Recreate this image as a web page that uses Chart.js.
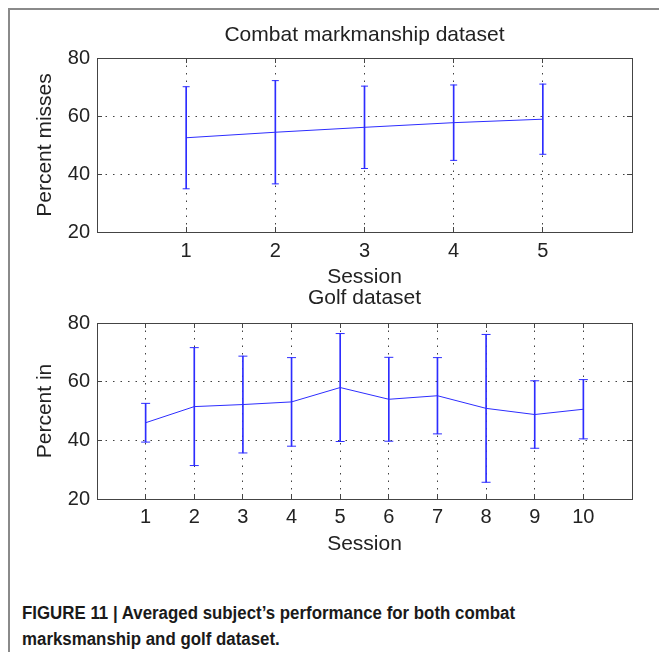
<!DOCTYPE html>
<html>
<head>
<meta charset="utf-8">
<script src="https://cdn.jsdelivr.net/npm/chart.js@4.4.1/dist/chart.umd.min.js"></script>
<style>
  html, body { margin: 0; padding: 0; background: #fff; width: 659px; height: 652px; overflow: hidden; }
  .frame { position: absolute; left: 8px; top: 8px; width: 720px; height: 720px;
           border-left: 2px solid #8a8a8a; border-top: 2px solid #8a8a8a; }
  canvas { position: absolute; left: 0; }
  #combatChart { top: 0; }
  #golfChart { top: 270px; }
  .caption { position: absolute; left: 22px; top: 600px; width: 700px;
             font-family: 'Liberation Sans', Arial, sans-serif;
             font-weight: bold; font-size: 18px; line-height: 26px; color: #1a1a1a;
             transform: scaleX(0.937); transform-origin: 0 0; }
</style>
</head>
<body>
<div class="frame"></div>
<canvas id="combatChart" width="659" height="290"></canvas>
<canvas id="golfChart" width="659" height="287"></canvas>
<div class="caption">FIGURE 11 | Averaged subject’s performance for both combat<br>marksmanship and golf dataset.</div>
<script>
const blue = 'rgb(45,45,255)';
const axisGray = '#444';
const fontFamily = "'Liberation Sans', Arial, sans-serif";

const combatSessions = [1, 2, 3, 4, 5];
const combatMean = [52.5, 54.4, 56.1, 57.7, 58.9];
const combatStd = [17.6, 17.8, 14.2, 13.0, 12.1];

const golfSessions = [1, 2, 3, 4, 5, 6, 7, 8, 9, 10];
const golfMean = [46.0, 51.5, 52.2, 53.1, 58.0, 54.0, 55.2, 50.9, 48.8, 50.6];
const golfStd = [6.6, 20.1, 16.5, 15.1, 18.4, 14.3, 13.0, 25.2, 11.5, 10.1];

const yTicks = [20, 40, 60, 80];

function makeChart(id, cfg) {
    const sessions = cfg.sessions;
    const xTicks = s => { s.ticks = sessions.map(v => ({ value: v })); };
    const yTickSet = s => { s.ticks = yTicks.map(v => ({ value: v })); };
    const xMax = sessions.length + 1;

    // dotted grid, short solid ticks pointing inward
    const grid = {
        color: 'rgba(0,0,0,0.75)',
        lineWidth: 1,
        offset: false,
        tickLength: -5,
        tickColor: axisGray,
        tickBorderDash: [],
        tickWidth: 1
    };
    const sideGrid = { ...grid, drawOnChartArea: false };
    const border = { display: true, color: axisGray, width: 1, dash: [1.5, 6] };
    const tickFont = { family: fontFamily, size: 20 };
    const titleFont = { family: fontFamily, size: 21, weight: 'normal' };

    return new Chart(document.getElementById(id), {
        type: 'line',
        data: {
            datasets: [{
                type: 'bar',
                data: sessions.map((s, i) => ({ x: s, y: [cfg.mean[i] - cfg.std[i], cfg.mean[i] + cfg.std[i]] })),
                backgroundColor: blue,
                borderWidth: 0,
                barThickness: 1
            }, {
                type: 'scatter',
                data: sessions.flatMap((s, i) => [
                    { x: s, y: cfg.mean[i] + cfg.std[i] },
                    { x: s, y: cfg.mean[i] - cfg.std[i] }
                ]),
                pointStyle: 'line',
                pointRadius: cfg.cap,
                pointHoverRadius: cfg.cap,
                borderColor: blue,
                pointBorderWidth: 1
            }, {
                type: 'line',
                data: sessions.map((s, i) => ({ x: s, y: cfg.mean[i] })),
                borderColor: blue,
                borderWidth: 1,
                pointRadius: 0,
                tension: 0,
                fill: false
            }]
        },
        options: {
            responsive: false,
            animation: false,
            events: [],
            layout: { padding: { left: 0, right: 27, top: 0, bottom: 0 } },
            plugins: {
                legend: { display: false },
                tooltip: { enabled: false },
                title: {
                    display: true,
                    text: cfg.title,
                    fullSize: false,
                    color: '#222',
                    font: titleFont,
                    padding: cfg.titlePad
                }
            },
            scales: {
                x: {
                    type: 'linear', position: 'bottom', min: 0, max: xMax, offset: false,
                    afterBuildTicks: xTicks,
                    afterFit: s => { s.height = 58; },
                    grid, border,
                    ticks: { font: tickFont, color: '#222', padding: cfg.xPad, maxRotation: 0, autoSkip: false },
                    title: { display: true, text: 'Session', font: titleFont, color: '#222', padding: 0 }
                },
                x2: {
                    type: 'linear', position: 'top', min: 0, max: xMax, offset: false,
                    afterBuildTicks: xTicks,
                    afterFit: s => { s.height = 0; },
                    grid: sideGrid, border,
                    ticks: { display: false }
                },
                y: {
                    type: 'linear', position: 'left', min: 20, max: 80,
                    afterBuildTicks: yTickSet,
                    afterFit: s => { s.width = 97; },
                    grid, border,
                    ticks: { font: tickFont, color: '#222', padding: 12 },
                    title: { display: true, text: cfg.yLabel, font: titleFont, color: '#222', padding: { top: 33, bottom: 0 } }
                },
                y2: {
                    type: 'linear', position: 'right', min: 20, max: 80,
                    afterBuildTicks: yTickSet,
                    afterFit: s => { s.width = 0; },
                    grid: sideGrid, border,
                    ticks: { display: false }
                }
            }
        }
    });
}

makeChart('combatChart', {
    sessions: combatSessions, mean: combatMean, std: combatStd,
    title: 'Combat markmanship dataset', yLabel: 'Percent misses',
    titlePad: { top: 22.4, bottom: 10.4 }, xPad: 12, cap: 3.5
});

makeChart('golfChart', {
    sessions: golfSessions, mean: golfMean, std: golfStd,
    title: 'Golf dataset', yLabel: 'Percent in',
    titlePad: { top: 16, bottom: 11.8 }, xPad: 11, cap: 4.5
});
</script>
</body>
</html>
